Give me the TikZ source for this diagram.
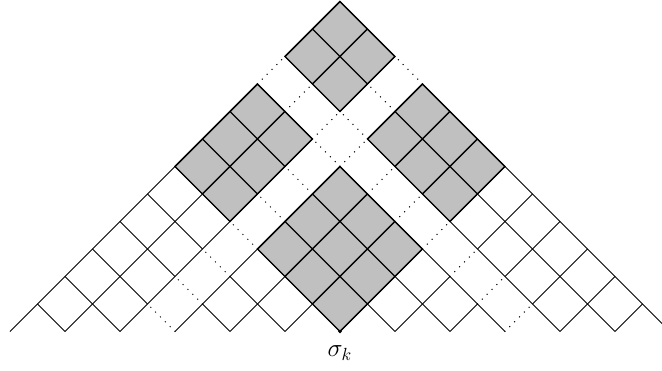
\documentclass[tikz,border=0pt]{standalone}
\usepackage{tikz}
\usetikzlibrary{positioning}
\definecolor{blockgray}{RGB}{192,192,192}
\tikzset{
  cellline/.style={black,line width=0.45pt},
  gapline/.style={black,line width=0.85pt,dash pattern=on 0pt off 3.9pt,line cap=round},
  block/.style={fill=blockgray,draw=black,line width=0.8pt},
  vertexdot/.style={circle,fill=black,inner sep=0pt,minimum size=2.2pt},
  rootlabel/.style={font=\Large},
  lattice/.style={cm={0.55,0.55,-0.55,0.55,(0,0)}}
}

\begin{document}
\begin{tikzpicture}
  \useasboundingbox (-6.8,-0.79) rectangle (6.44,6.63);
  \clip (-6.8,-0.79) rectangle (6.44,6.63);

  \begin{scope}[lattice]
    \foreach \k in {-5,...,6} {
      \draw[cellline] (\k,{max(0-\k,4)}) -- (\k,6);
      \draw[cellline] ({max(0-\k,4)},\k) -- (6,\k);
    }
    \foreach \k in {-2,...,6} {
      \draw[cellline] (\k,{0-\k}) -- (\k,3);
      \draw[cellline] ({0-\k},\k) -- (3,\k);
    }
    \foreach \k in {-3,...,6} {
      \draw[gapline] (\k,3) -- (\k,4);
      \draw[gapline] (3,\k) -- (4,\k);
    }
    \draw[block] (4,4) rectangle (6,6) (4,4) grid (6,6);
    \draw[block] (0,4) rectangle (3,6) (0,4) grid (3,6);
    \draw[block] (4,0) rectangle (6,3) (4,0) grid (6,3);
    \draw[block] (0,0) rectangle (3,3) (0,0) grid (3,3);
  \end{scope}

  \node[vertexdot] (sig) at (0,0) {};
  \node[rootlabel,below=1.2mm of sig] (sigk) {$\sigma_k$};
\end{tikzpicture}
\end{document}
